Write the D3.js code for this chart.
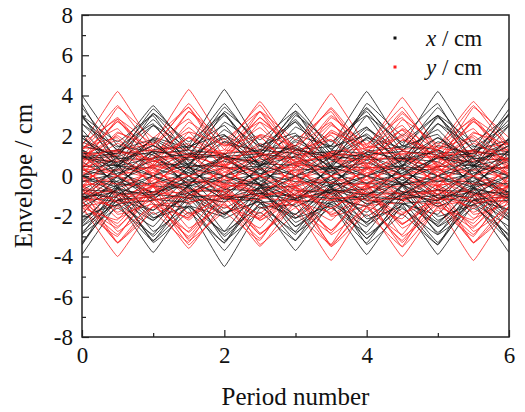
<!DOCTYPE html>
<html>
<head>
<meta charset="utf-8">
<script src="https://cdn.jsdelivr.net/npm/d3@7"></script>
<style>
  body { margin: 0; background: #fff; }
</style>
</head>
<body>
<div id="chart"></div>
<script>
// sample points: F and D quads alternate every half period
const periods = [0, 0.5, 1, 1.5, 2, 2.5, 3, 3.5, 4, 4.5, 5, 5.5, 6];

// horizontal envelopes (cm), estimated from the figure, one row per particle
const xTraces = [
  [4.0, 1.5, 1.2, -0.6, -3.2, -1.8, -3.2, -0.6, 1.2, 1.5, 4.2, 1.5, 1.2],
  [2.6, 0.9, 0.8, -0.4, -2.1, -1.2, -2.1, -0.4, 0.8, 0.9, 2.6, 0.9, 0.8],
  [1.3, 0.5, 0.4, -0.2, -1.1, -0.6, -1.1, -0.2, 0.4, 0.5, 1.3, 0.5, 0.4],
  [3.6, 0.6, -1.4, -1.6, -4.5, -1.6, -1.4, 0.6, 3.6, 2.0, 3.6, 0.6, -1.4],
  [2.3, 0.4, -0.9, -1.1, -2.9, -1.1, -0.9, 0.4, 2.3, 1.3, 2.3, 0.4, -0.9],
  [1.3, 0.2, -0.5, -0.6, -1.6, -0.6, -0.5, 0.2, 1.3, 0.7, 1.3, 0.2, -0.5],
  [1.3, -0.6, -3.3, -1.8, -3.3, -0.6, 1.3, 1.5, 4.2, 1.5, 1.3, -0.6, -3.3],
  [0.7, -0.3, -1.9, -1.1, -1.9, -0.3, 0.7, 0.9, 2.4, 0.9, 0.7, -0.3, -1.9],
  [0.3, -0.1, -0.8, -0.45, -0.8, -0.1, 0.3, 0.36, 1.0, 0.36, 0.3, -0.1, -0.8],
  [-1.1, -1.3, -3.8, -1.3, -1.1, 0.5, 3.0, 1.7, 3.0, 0.5, -1.1, -1.3, -3.8],
  [-0.7, -0.8, -2.2, -0.8, -0.7, 0.3, 1.8, 1.0, 1.8, 0.3, -0.7, -0.8, -2.2],
  [-0.25, -0.29, -0.8, -0.29, -0.25, 0.11, 0.65, 0.36, 0.65, 0.11, -0.25, -0.29, -0.8],
  [-2.9, -1.6, -2.9, -0.5, 1.1, 1.3, 3.6, 1.3, 1.1, -0.5, -2.9, -1.6, -2.9],
  [-2.2, -1.2, -2.2, -0.4, 0.8, 1.0, 2.7, 1.0, 0.8, -0.4, -2.2, -1.2, -2.2],
  [-1.1, -0.6, -1.1, -0.2, 0.4, 0.5, 1.4, 0.5, 0.4, -0.2, -1.1, -0.6, -1.1],
  [-3.9, -1.4, -1.2, 0.5, 3.2, 1.8, 3.2, 0.5, -1.2, -1.4, -3.9, -1.4, -1.2],
  [-2.5, -0.9, -0.8, 0.3, 2.0, 1.1, 2.0, 0.3, -0.8, -0.9, -2.5, -0.9, -0.8],
  [-1.2, -0.44, -0.37, 0.17, 0.97, 0.54, 0.97, 0.17, -0.37, -0.44, -1.2, -0.44, -0.37],
  [-3.4, -0.6, 1.3, 1.5, 4.3, 1.5, 1.3, -0.6, -3.4, -1.9, -3.4, -0.6, 1.3],
  [-2.4, -0.4, 0.9, 1.1, 3.0, 1.1, 0.9, -0.4, -2.4, -1.35, -2.4, -0.4, 0.9],
  [-1.38, -0.24, 0.53, 0.62, 1.7, 0.62, 0.53, -0.24, -1.38, -0.77, -1.38, -0.24, 0.53],
  [-1.2, 0.5, 3.1, 1.7, 3.1, 0.5, -1.2, -1.4, -3.9, -1.4, -1.2, 0.5, 3.1],
  [-0.71, 0.32, 1.86, 1.04, 1.86, 0.32, -0.71, -0.84, -2.3, -0.84, -0.71, 0.32, 1.86],
  [-0.28, 0.13, 0.73, 0.41, 0.73, 0.13, -0.28, -0.33, -0.9, -0.33, -0.28, 0.13, 0.73],
  [1.1, 1.3, 3.5, 1.3, 1.1, -0.5, -2.8, -1.6, -2.8, -0.5, 1.1, 1.3, 3.9],
  [0.9, 1.0, 2.8, 1.0, 0.9, -0.4, -2.3, -1.3, -2.3, -0.4, 0.9, 1.0, 2.8],
  [0.46, 0.55, 1.5, 0.55, 0.46, -0.21, -1.21, -0.68, -1.21, -0.21, 0.46, 0.55, 1.5],
  [3.0, 1.7, 3.0, 0.5, -1.1, -1.3, -3.7, -1.3, -1.1, 0.5, 3.0, 1.7, 3.0],
  [1.7, 0.95, 1.7, 0.29, -0.65, -0.76, -2.1, -0.76, -0.65, 0.29, 1.7, 0.95, 1.7],
  [0.89, 0.5, 0.89, 0.15, -0.34, -0.4, -1.1, -0.4, -0.34, 0.15, 0.89, 0.5, 0.89],
  [3.0, 0.85, 0, -0.85, -3.0, -1.4, -1.9, 0, 1.9, 1.4, 3.0, 0.85, 0],
  [1.2, 0, -1.2, -0.86, -1.9, -0.5, 0, 0.5, 1.9, 0.86, 1.2, 0, -1.2],
  [0, -0.9, -3.2, -1.5, -2.0, 0, 2.0, 1.5, 3.2, 0.9, 0, -0.9, -3.2],
  [-1.1, -0.8, -1.7, -0.5, 0, 0.5, 1.7, 0.8, 1.1, 0, -1.1, -0.8, -1.7],
  [-2.8, -1.2, -1.7, 0, 1.7, 1.2, 2.8, 0.8, 0, -0.8, -2.8, -1.2, -1.7],
  [-2.3, -0.6, 0, 0.6, 2.3, 1.0, 1.4, 0, -1.4, -1.0, -2.3, -0.6, 0],
  [-1.9, 0, 1.9, 1.4, 3.1, 0.9, 0, -0.9, -3.1, -1.4, -1.9, 0, 1.9],
  [0, 0.5, 1.8, 0.8, 1.1, 0, -1.1, -0.8, -1.8, -0.5, 0, 0.5, 1.8],
  [1.5, 1.1, 2.5, 0.7, 0, -0.7, -2.5, -1.1, -1.5, 0, 1.5, 1.1, 2.5],
  [2.9, 1.3, 1.8, 0, -1.8, -1.3, -2.9, -0.8, 0, 0.8, 2.9, 1.3, 1.8],
  [3.4, 1.24, 1.05, -0.47, -2.75, -1.53, -2.75, -0.47, 1.05, 1.24, 3.4, 1.24, 1.05],
  [2.99, 0.51, -1.14, -1.35, -3.7, -1.35, -1.14, 0.51, 2.99, 1.67, 2.99, 0.51, -1.14],
  [1.05, -0.47, -2.75, -1.53, -2.75, -0.47, 1.05, 1.24, 3.4, 1.24, 1.05, -0.47, -2.75],
  [-0.93, -1.09, -3.0, -1.09, -0.93, 0.42, 2.43, 1.35, 2.43, 0.42, -0.93, -1.09, -3.0],
  [-2.51, -1.4, -2.51, -0.43, 0.96, 1.13, 3.1, 1.13, 0.96, -0.43, -2.51, -1.4, -2.51],
  [-3.3, -1.2, -1.02, 0.46, 2.67, 1.49, 2.67, 0.46, -1.02, -1.2, -3.3, -1.2, -1.02],
  [-2.91, -0.5, 1.11, 1.31, 3.6, 1.31, 1.11, -0.5, -2.91, -1.62, -2.91, -0.5, 1.11],
  [-0.96, 0.43, 2.51, 1.4, 2.51, 0.43, -0.96, -1.13, -3.1, -1.13, -0.96, 0.43, 2.51],
  [0.96, 1.13, 3.1, 1.13, 0.96, -0.43, -2.51, -1.4, -2.51, -0.43, 0.96, 1.13, 3.1],
  [2.59, 1.44, 2.59, 0.44, -0.99, -1.17, -3.2, -1.17, -0.99, 0.44, 2.59, 1.44, 2.59],
  [1.9, 0.53, 0, -0.53, -1.9, -0.86, -1.18, 0, 1.18, 0.86, 1.9, 0.53, 0],
  [2.06, 0, -2.06, -1.5, -3.33, -0.93, 0, 0.93, 3.33, 1.5, 2.06, 0, -2.06],
  [0, -0.58, -2.09, -0.94, -1.29, 0, 1.29, 0.94, 2.09, 0.58, 0, -0.58, -2.09],
  [-2.0, -1.46, -3.23, -0.9, 0, 0.9, 3.23, 1.46, 2.0, 0, -2.0, -1.46, -3.23],
  [-1.52, -0.68, -0.94, 0, 0.94, 0.68, 1.52, 0.42, 0, -0.42, -1.52, -0.68, -0.94],
  [-3.42, -0.95, 0, 0.95, 3.42, 1.54, 2.12, 0, -2.12, -1.54, -3.42, -0.95, 0],
  [-1.23, 0, 1.23, 0.9, 2.0, 0.56, 0, -0.56, -2.0, -0.9, -1.23, 0, 1.23],
  [0, 0.93, 3.33, 1.5, 2.06, 0, -2.06, -1.5, -3.33, -0.93, 0, 0.93, 3.33],
  [0.94, 0.68, 1.52, 0.42, 0, -0.42, -1.52, -0.68, -0.94, 0, 0.94, 0.68, 1.52],
  [1.9, 0.86, 1.18, 0, -1.18, -0.86, -1.9, -0.53, 0, 0.53, 1.9, 0.86, 1.18]
];

// vertical envelopes (cm)
const yTraces = [
  [1.5, 4.2, 1.5, 1.3, -0.6, -3.4, -1.9, -3.4, -0.6, 1.3, 1.5, 3.7, 1.5],
  [1.0, 2.7, 1.0, 0.8, -0.4, -2.2, -1.2, -2.2, -0.4, 0.8, 1.0, 2.7, 1.0],
  [0.47, 1.3, 0.47, 0.4, -0.18, -1.05, -0.59, -1.05, -0.18, 0.4, 0.47, 1.3, 0.47],
  [-0.6, 1.3, 1.6, 4.3, 1.6, 1.3, -0.6, -3.5, -1.9, -3.5, -0.6, 1.3, 1.6],
  [-0.33, 0.74, 0.87, 2.4, 0.87, 0.74, -0.33, -1.94, -1.08, -1.94, -0.33, 0.74, 0.87],
  [-0.15, 0.34, 0.4, 1.1, 0.4, 0.34, -0.15, -0.89, -0.5, -0.89, -0.15, 0.34, 0.4],
  [-1.7, -3.0, -0.5, 1.1, 1.3, 3.7, 1.3, 1.1, -0.5, -3.0, -1.7, -3.0, -0.5],
  [-1.3, -2.35, -0.4, 0.9, 1.06, 2.9, 1.06, 0.9, -0.4, -2.35, -1.3, -2.35, -0.4],
  [-0.68, -1.21, -0.21, 0.46, 0.55, 1.5, 0.55, 0.46, -0.21, -1.21, -0.68, -1.21, -0.21],
  [-0.6, -3.3, -1.8, -3.3, -0.6, 1.3, 1.5, 4.1, 1.5, 1.3, -0.6, -3.3, -1.8],
  [-0.36, -2.1, -1.17, -2.1, -0.36, 0.8, 0.95, 2.6, 0.95, 0.8, -0.36, -2.1, -1.17],
  [-0.17, -0.97, -0.54, -0.97, -0.17, 0.37, 0.44, 1.2, 0.44, 0.37, -0.17, -0.97, -0.54],
  [1.4, 1.2, -0.5, -3.2, -1.8, -3.2, -0.5, 1.2, 1.4, 3.9, 1.4, 1.2, -0.5],
  [0.84, 0.71, -0.32, -1.86, -1.04, -1.86, -0.32, 0.71, 0.84, 2.3, 0.84, 0.71, -0.32],
  [0.33, 0.28, -0.13, -0.73, -0.41, -0.73, -0.13, 0.28, 0.33, 0.9, 0.33, 0.28, -0.13],
  [-1.5, -4.0, -1.5, -1.2, 0.6, 3.2, 1.8, 3.2, 0.6, -1.2, -1.5, -4.2, -1.5],
  [-0.91, -2.5, -0.91, -0.77, 0.35, 2.02, 1.13, 2.02, 0.35, -0.77, -0.91, -2.5, -0.91],
  [-0.47, -1.3, -0.47, -0.4, 0.18, 1.05, 0.59, 1.05, 0.18, -0.4, -0.47, -1.3, -0.47],
  [0.5, -1.1, -1.3, -3.6, -1.3, -1.1, 0.5, 2.9, 1.6, 2.9, 0.5, -1.1, -1.3],
  [0.39, -0.87, -1.02, -2.8, -1.02, -0.87, 0.39, 2.27, 1.26, 2.27, 0.39, -0.87, -1.02],
  [0.19, -0.43, -0.51, -1.4, -0.51, -0.43, 0.19, 1.13, 0.63, 1.13, 0.19, -0.43, -0.51],
  [1.6, 2.8, 0.5, -1.1, -1.3, -3.5, -1.3, -1.1, 0.5, 2.8, 1.6, 2.8, 0.5],
  [0.99, 1.78, 0.31, -0.68, -0.8, -2.2, -0.8, -0.68, 0.31, 1.78, 0.99, 1.78, 0.31],
  [0.45, 0.81, 0.14, -0.31, -0.36, -1.0, -0.36, -0.31, 0.14, 0.81, 0.45, 0.81, 0.14],
  [0.6, 3.4, 1.9, 3.4, 0.6, -1.3, -1.5, -4.2, -1.5, -1.3, 0.6, 3.4, 1.9],
  [0.38, 2.18, 1.22, 2.18, 0.38, -0.83, -0.98, -2.7, -0.98, -0.83, 0.38, 2.18, 1.22],
  [0.22, 1.29, 0.72, 1.29, 0.22, -0.49, -0.58, -1.6, -0.58, -0.49, 0.22, 1.29, 0.72],
  [-1.5, -1.2, 0.6, 3.2, 1.8, 3.2, 0.6, -1.2, -1.5, -4.0, -1.5, -1.2, 0.6],
  [-0.87, -0.74, 0.33, 1.94, 1.08, 1.94, 0.33, -0.74, -0.87, -2.4, -0.87, -0.74, 0.33],
  [-0.44, -0.37, 0.17, 0.97, 0.54, 0.97, 0.17, -0.37, -0.44, -1.2, -0.44, -0.37, 0.17],
  [1.4, 1.9, 0, -1.9, -1.4, -3.1, -0.9, 0, 0.9, 3.1, 1.4, 1.9, 0],
  [0.56, 0, -0.56, -2.0, -0.9, -1.2, 0, 1.2, 0.9, 2.0, 0.56, 0, -0.56],
  [0, -1.9, -1.4, -3.0, -0.85, 0, 0.85, 3.0, 1.4, 1.9, 0, -1.9, -1.4],
  [-0.5, -1.8, -0.8, -1.1, 0, 1.1, 0.8, 1.8, 0.5, 0, -0.5, -1.8, -0.8],
  [-1.3, -2.9, -0.8, 0, 0.8, 2.9, 1.3, 1.8, 0, -1.8, -1.3, -2.9, -0.8],
  [-1.1, -1.5, 0, 1.5, 1.1, 2.4, 0.7, 0, -0.7, -2.4, -1.1, -1.5, 0],
  [-0.9, 0, 0.9, 3.2, 1.5, 2.0, 0, -2.0, -1.5, -3.2, -0.9, 0, 0.9],
  [0, 1.2, 0.86, 1.9, 0.5, 0, -0.5, -1.9, -0.86, -1.2, 0, 1.2, 0.86],
  [0.7, 2.7, 1.2, 1.6, 0, -1.6, -1.2, -2.7, -0.7, 0, 0.7, 2.7, 1.2],
  [1.3, 2.9, 0.8, 0, -0.8, -2.9, -1.3, -1.8, 0, 1.8, 1.3, 2.9, 0.8],
  [1.27, 3.5, 1.27, 1.08, -0.49, -2.83, -1.58, -2.83, -0.49, 1.08, 1.27, 3.5, 1.27],
  [-0.5, 1.11, 1.31, 3.6, 1.31, 1.11, -0.5, -2.91, -1.62, -2.91, -0.5, 1.11, 1.31],
  [-1.44, -2.59, -0.44, 0.99, 1.17, 3.2, 1.17, 0.99, -0.44, -2.59, -1.44, -2.59, -0.44],
  [-0.47, -2.75, -1.53, -2.75, -0.47, 1.05, 1.24, 3.4, 1.24, 1.05, -0.47, -2.75, -1.53],
  [1.17, 0.99, -0.44, -2.59, -1.44, -2.59, -0.44, 0.99, 1.17, 3.2, 1.17, 0.99, -0.44],
  [-1.2, -3.3, -1.2, -1.02, 0.46, 2.67, 1.49, 2.67, 0.46, -1.02, -1.2, -3.3, -1.2],
  [0.43, -0.96, -1.13, -3.1, -1.13, -0.96, 0.43, 2.51, 1.4, 2.51, 0.43, -0.96, -1.13],
  [1.31, 2.35, 0.4, -0.9, -1.06, -2.9, -1.06, -0.9, 0.4, 2.35, 1.31, 2.35, 0.4],
  [0.49, 2.83, 1.58, 2.83, 0.49, -1.08, -1.27, -3.5, -1.27, -1.08, 0.49, 2.83, 1.58],
  [-1.2, -1.02, 0.46, 2.67, 1.49, 2.67, 0.46, -1.02, -1.2, -3.3, -1.2, -1.02, 0.46],
  [0.94, 1.29, 0, -1.29, -0.94, -2.09, -0.58, 0, 0.58, 2.09, 0.94, 1.29, 0],
  [0.95, 0, -0.95, -3.42, -1.54, -2.12, 0, 2.12, 1.54, 3.42, 0.95, 0, -0.95],
  [0, -1.35, -0.98, -2.19, -0.61, 0, 0.61, 2.19, 0.98, 1.35, 0, -1.35, -0.98],
  [-0.93, -3.33, -1.5, -2.06, 0, 2.06, 1.5, 3.33, 0.93, 0, -0.93, -3.33, -1.5],
  [-0.73, -1.62, -0.45, 0, 0.45, 1.62, 0.73, 1.0, 0, -1.0, -0.73, -1.62, -0.45],
  [-1.58, -2.18, 0, 2.18, 1.58, 3.52, 0.98, 0, -0.98, -3.52, -1.58, -2.18, 0],
  [-0.53, 0, 0.53, 1.9, 0.86, 1.18, 0, -1.18, -0.86, -1.9, -0.53, 0, 0.53],
  [0, 2.12, 1.54, 3.42, 0.95, 0, -0.95, -3.42, -1.54, -2.12, 0, 2.12, 1.54],
  [0.45, 1.62, 0.73, 1.0, 0, -1.0, -0.73, -1.62, -0.45, 0, 0.45, 1.62, 0.73],
  [0.9, 2.0, 0.56, 0, -0.56, -2.0, -0.9, -1.23, 0, 1.23, 0.9, 2.0, 0.56]
];

const xMajor = [0, 2, 4, 6];
const xMinor = [1, 3, 5];
const yMajor = [-8, -6, -4, -2, 0, 2, 4, 6, 8];
const yMinor = [-7, -5, -3, -1, 1, 3, 5, 7];

let width = 525, height = 412;
let margin = {top: 15, right: 16, bottom: 75, left: 82};
let w = width - margin.left - margin.right;
let h = height - margin.top - margin.bottom;
const serif = "Liberation Serif";

let svg = d3.select("#chart").append("svg")
  .attr("width", width)
  .attr("height", height);

let g = svg.append("g").attr("transform", "translate(" + margin.left + "," + margin.top + ")");

let x = d3.scaleLinear().domain([0, 6]).range([0, w]);
let y = d3.scaleLinear().domain([-8, 8]).range([h, 0]);

g.append("clipPath").attr("id", "plot-clip")
  .append("rect").attr("width", w).attr("height", h);

let line = d3.line()
  .x((d, i) => x(periods[i]))
  .y(d => y(d))
  .curve(d3.curveCardinal.tension(0.8));

// interleave x and y traces so neither colour sits fully on top
let traces = [];
xTraces.forEach((t, i) => {
  traces.push({vals: t, color: "#111"});
  if (yTraces[i]) traces.push({vals: yTraces[i], color: "#ff1f1f"});
});

g.append("g").attr("clip-path", "url(#plot-clip)")
  .selectAll("path")
  .data(traces)
  .enter()
  .append("path")
  .attr("d", d => line(d.vals))
  .attr("fill", "none")
  .attr("stroke", d => d.color)
  .attr("stroke-width", 1)
  .attr("stroke-opacity", 0.8);

// axes, ticks pointing inward, plain hyphen for minus
let fmt = d => (d < 0 ? "-" + Math.abs(d) : String(d));
let xAxis = g.append("g").attr("transform", "translate(0," + h + ")")
  .call(d3.axisBottom(x).tickValues(xMajor).tickSize(-7).tickSizeOuter(0).tickPadding(10).tickFormat(fmt));
let xAxisMinor = g.append("g").attr("transform", "translate(0," + h + ")")
  .call(d3.axisBottom(x).tickValues(xMinor).tickSize(-4).tickSizeOuter(0).tickFormat(""));
let yAxis = g.append("g")
  .call(d3.axisLeft(y).tickValues(yMajor).tickSize(-7).tickSizeOuter(0).tickPadding(9).tickFormat(fmt));
let yAxisMinor = g.append("g")
  .call(d3.axisLeft(y).tickValues(yMinor).tickSize(-4).tickSizeOuter(0).tickFormat(""));

[xAxis, xAxisMinor, yAxis, yAxisMinor].forEach(a => {
  a.attr("font-family", serif);
  a.select(".domain").remove();
  a.selectAll(".tick line").attr("stroke", "#222").attr("stroke-width", 1.2);
  a.selectAll("text").attr("font-size", 23).attr("fill", "#111").attr("font-family", serif);
});

g.append("rect")
  .attr("width", w).attr("height", h)
  .attr("fill", "none")
  .attr("stroke", "#222")
  .attr("stroke-width", 1.5);

// axis titles
svg.append("text")
  .attr("x", margin.left + w / 2)
  .attr("y", 405)
  .attr("text-anchor", "middle")
  .attr("font-family", serif)
  .attr("font-size", 25)
  .attr("fill", "#111")
  .text("Period number");

svg.append("text")
  .attr("transform", "translate(32," + (margin.top + h / 2) + ") rotate(-90)")
  .attr("text-anchor", "middle")
  .attr("font-family", serif)
  .attr("font-size", 25)
  .attr("fill", "#111")
  .text("Envelope / cm");

// legend
let legendItems = [{name: "x", color: "#111"}, {name: "y", color: "#ff1f1f"}];
let legend = svg.append("g");
legendItems.forEach((d, i) => {
  let ly = 38 + i * 29;
  legend.append("rect")
    .attr("x", 393.5).attr("y", ly - 1.5)
    .attr("width", 3).attr("height", 3)
    .attr("fill", d.color);
  let t = legend.append("text")
    .attr("x", 426).attr("y", ly + 8)
    .attr("font-family", serif)
    .attr("font-size", 23)
    .attr("fill", "#111");
  t.append("tspan").attr("font-style", "italic").text(d.name);
  t.append("tspan").text(" / cm");
});
</script>
</body>
</html>
